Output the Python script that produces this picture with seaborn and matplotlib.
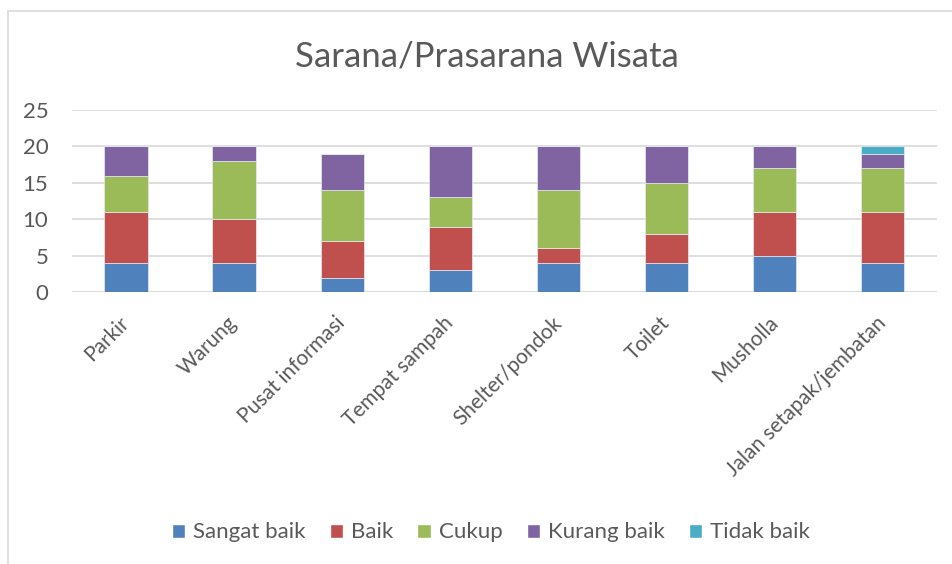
import pandas as pd
import seaborn as sns
from matplotlib import pyplot as plt
from matplotlib.lines import Line2D
from matplotlib.patches import Patch

categories = ['Parkir', 'Warung', 'Pusat informasi', 'Tempat sampah',
              'Shelter/pondok', 'Toilet', 'Musholla', 'Jalan setapak/jembatan']

sangat_baik = [4, 4, 2, 3, 4, 4, 5, 4]
baik = [7, 6, 5, 6, 2, 4, 6, 7]
cukup = [5, 8, 7, 4, 8, 7, 6, 6]
kurang_baik = [4, 2, 5, 7, 6, 5, 3, 2]
tidak_baik = [0, 0, 0, 0, 0, 0, 0, 1]

series = ['Sangat baik', 'Baik', 'Cukup', 'Kurang baik', 'Tidak baik']
values = [sangat_baik, baik, cukup, kurang_baik, tidak_baik]
colors = ['#4F81BD', '#C0504D', '#9BBB59', '#8064A2', '#4BACC6']

sns.set_theme(style='white')
plt.rcParams['font.family'] = ['Lato', 'DejaVu Sans']

fig = plt.figure(figsize=(9.53, 5.64), dpi=100)
ax = fig.add_axes([0.0755, 0.482, 0.9075, 0.323])

bottom = [0] * len(categories)
for name, vals, col in zip(series, values, colors):
    df = pd.DataFrame({'kategori': categories, 'nilai': vals})
    sns.barplot(data=df, x='kategori', y='nilai', color=col, width=0.4,
                saturation=1, bottom=bottom, errorbar=None, ax=ax, zorder=3,
                edgecolor='#E8ECF4', linewidth=0.5)
    bottom = [b + v for b, v in zip(bottom, vals)]

ax.set_ylim(0, 25)
ax.set_yticks(range(0, 26, 5))
ax.set_xlim(-0.5, len(categories) - 0.5)
ax.yaxis.grid(True, color='#D9D9D9', linewidth=1.2, zorder=0)
for s in ['top', 'right', 'left', 'bottom']:
    ax.spines[s].set_visible(False)
ax.axhline(0, color='#D9D9D9', linewidth=1.2, zorder=2)
ax.set_xlabel('')
ax.set_ylabel('')
ax.tick_params(axis='y', labelsize=16, colors='#595959', length=0, pad=17)
ax.tick_params(axis='x', labelsize=15, colors='#595959', length=0, pad=20)
plt.setp(ax.get_xticklabels(), rotation=45, ha='right', va='center',
         rotation_mode='anchor')

fig.text(0.511, 0.899, 'Sarana/Prasarana Wisata', ha='center', va='center',
         fontsize=25, color='#595959')

handles = [Patch(facecolor=c, label=n) for n, c in zip(series, colors)]
fig.legend(handles=handles, loc='center', bbox_to_anchor=(0.515, 0.056),
           ncol=5, frameon=False, fontsize=16, handlelength=0.6,
           handleheight=0.6, handletextpad=0.35, columnspacing=1.1,
           labelcolor='#595959')

fig.add_artist(Line2D([8 / 953, 8 / 953], [0, 1 - 11 / 564],
                      transform=fig.transFigure, color='#D9D9D9', linewidth=1.2))
fig.add_artist(Line2D([8 / 953, 1], [1 - 11 / 564, 1 - 11 / 564],
                      transform=fig.transFigure, color='#D9D9D9', linewidth=1.2))

fig.savefig('out.png', dpi=100)
